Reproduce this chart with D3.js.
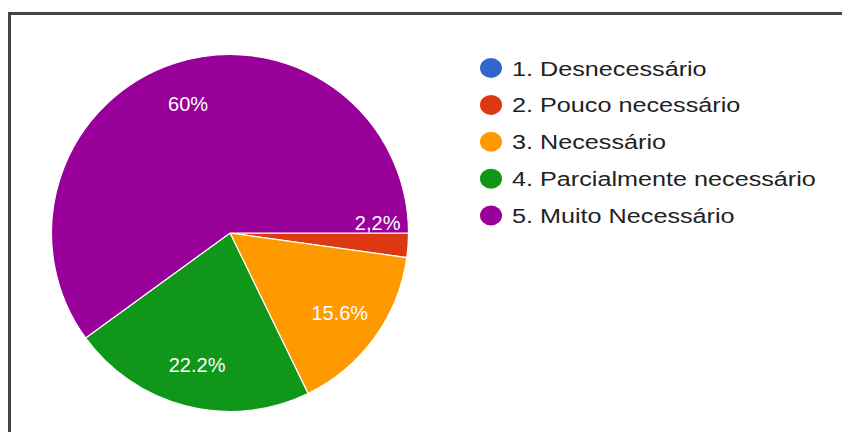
<!DOCTYPE html>
<html>
<head>
<meta charset="utf-8">
<script src="https://cdn.jsdelivr.net/npm/d3@7"></script>
<style>
  html, body { margin: 0; padding: 0; background: #fff; }
  svg { display: block; }
</style>
</head>
<body>
<svg id="chart" width="842" height="432"></svg>
<script>
const categories = ["1. Desnecessário", "2. Pouco necessário", "3. Necessário", "4. Parcialmente necessário", "5. Muito Necessário"];
const values = [0, 2.2, 15.6, 22.2, 60];
const sliceLabels = ["0%", "2,2%", "15.6%", "22.2%", "60%"];
const colors = ["#3366cc", "#dc3912", "#ff9900", "#109618", "#990099"];

const svg = d3.select("#chart");
const W = 842, H = 432;

// frame
svg.append("rect").attr("x", 9.5).attr("y", 13.5).attr("width", W + 10).attr("height", H + 10)
  .attr("fill", "#fff").attr("stroke", "#444").attr("stroke-width", 3);

const cx = 230, cy = 233, r = 178.5;
const color = d3.scaleOrdinal().domain(categories).range(colors);

const data = categories.map((c, i) => ({ cat: c, value: values[i], label: sliceLabels[i] }));
const pie = d3.pie().value(d => d.value).sort(null)
  .startAngle(Math.PI / 2).endAngle(Math.PI / 2 + 2 * Math.PI);
const arcs = pie(data);
const arc = d3.arc().innerRadius(0).outerRadius(r);
const labelArc = d3.arc().innerRadius(r * 0.76).outerRadius(r * 0.76);

const g = svg.append("g").attr("transform", `translate(${cx},${cy})`);
g.selectAll("path.slice").data(arcs.filter(a => a.data.value > 0)).join("path")
  .attr("class", "slice")
  .attr("d", arc)
  .attr("fill", d => color(d.data.cat))
  .attr("stroke", "#fff").attr("stroke-width", 1.2);

g.selectAll("text.lbl").data(arcs.filter(a => a.data.value > 0)).join("text")
  .attr("class", "lbl")
  .attr("font-family", "Liberation Sans, Arial, sans-serif")
  .attr("font-size", 20)
  .attr("fill", "#fff")
  .each(function(d) {
    const t = d3.select(this);
    if (d.data.value < 5) {
      const a = d.startAngle;
      t.attr("text-anchor", "end")
        .attr("x", r * 0.955 * Math.sin(a))
        .attr("y", -r * Math.cos(a) - 3);
    } else {
      const [x, y] = labelArc.centroid(d);
      t.attr("text-anchor", "middle").attr("x", x).attr("y", y + 7);
    }
  })
  .text(d => d.data.label);

// legend
const legY = d3.scalePoint().domain(categories).range([68, 215.5]);
const leg = svg.append("g");
const rows = leg.selectAll("g").data(categories).join("g")
  .attr("transform", d => `translate(491,${legY(d)})`);
rows.append("ellipse").attr("rx", 11).attr("ry", 10).attr("fill", d => color(d));
rows.append("text")
  .attr("transform", "translate(21,7.5) scale(1.2,1)")
  .attr("font-family", "Liberation Sans, Arial, sans-serif")
  .attr("font-size", 21)
  .attr("fill", "#222")
  .text(d => d);
</script>
</body>
</html>
